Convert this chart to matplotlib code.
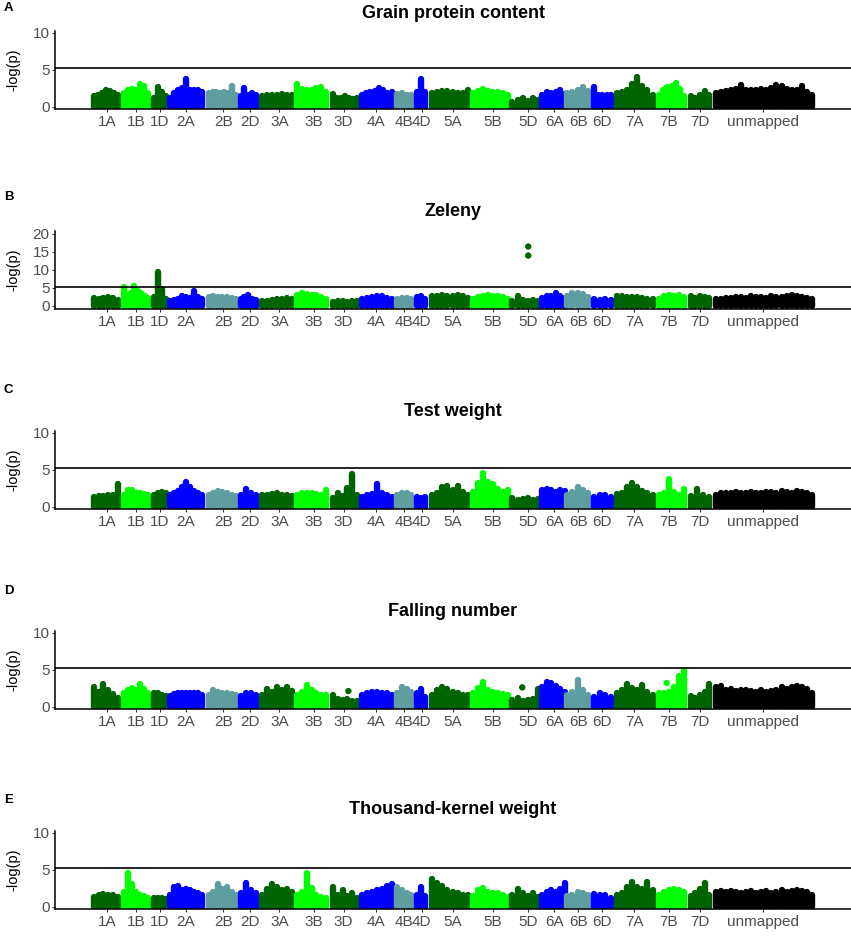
import numpy as np
import matplotlib
matplotlib.use('Agg')
import matplotlib.pyplot as plt

plt.rcParams['font.family'] = ['Liberation Sans', 'DejaVu Sans']

# chromosome layout (cumulative position units)
chroms = ['1A', '1B', '1D', '2A', '2B', '2D', '3A', '3B', '3D', '4A', '4B', '4D',
          '5A', '5B', '5D', '6A', '6B', '6D', '7A', '7B', '7D', 'unmapped']
chrom_start = [0, 30, 60, 76, 115, 147, 169, 204, 240, 269, 304, 324,
               339, 380, 420, 450, 475, 502, 525, 567, 599, 624]
chrom_end = [30, 61, 79, 115, 149, 169, 205, 239, 270, 305, 325, 339,
             382, 422, 452, 479, 502, 525, 567, 599, 624, 727]
chrom_mid = [16, 45.3, 69.3, 95.3, 132.7, 159.3, 189.3, 223.7, 253.7, 286, 314.3, 332,
             363, 403.7, 438.7, 465.3, 489.3, 512.7, 545.3, 580.3, 611, 674.7]

dg, lg, bl, cb = '#006400', '#00ff00', '#0000ff', '#5f9ea0'
chrom_colors = [dg, lg, dg, bl, cb, bl, dg, lg, dg, bl, cb, bl,
                dg, lg, dg, bl, cb, bl, dg, lg, dg, 'black']

threshold = 5.3

# -log(p) profile along each chromosome, one list per chromosome
gpc = [
    [1.4, 1.5, 1.9, 2.2, 2.1, 1.8, 1.6],
    [1.8, 2.2, 2.4, 2.3, 3.0, 2.8, 1.8],
    [1.2, 2.6, 2.0, 1.4],
    [1.2, 1.8, 2.2, 2.5, 3.8, 2.3, 2.2, 2.2, 2.0],
    [1.8, 2.0, 2.0, 1.9, 2.0, 1.9, 2.8, 1.6],
    [1.4, 2.5, 1.6, 1.9, 1.5],
    [1.4, 1.5, 1.6, 1.5, 1.7, 1.5, 1.6],
    [3.0, 2.4, 2.2, 2.3, 2.5, 2.6, 2.0],
    [1.7, 1.2, 1.1, 1.4, 1.2, 1.0, 1.1],
    [1.5, 1.9, 2.0, 2.1, 2.5, 2.3, 1.8, 2.0],
    [1.7, 1.8, 1.6, 1.5],
    [2.0, 3.7, 2.0],
    [1.8, 2.0, 2.1, 2.1, 2.0, 1.9, 1.8, 2.3],
    [1.9, 2.1, 2.4, 2.1, 2.0, 2.0, 1.8, 1.6],
    [0.6, 0.9, 1.2, 0.8, 1.1, 0.9],
    [1.6, 2.0, 1.9, 2.0, 2.2, 1.7],
    [1.9, 2.0, 2.3, 2.6, 2.1],
    [2.6, 1.5, 1.6, 1.6, 1.5],
    [1.8, 2.0, 2.2, 3.0, 4.0, 2.8, 2.3, 1.6],
    [1.6, 2.2, 2.6, 2.8, 3.2, 2.4, 1.4],
    [1.4, 1.2, 1.6, 2.1, 1.6],
    [1.8, 2.0, 2.1, 2.2, 2.4, 2.9, 2.2, 2.3, 2.2, 2.4,
     2.3, 2.5, 2.9, 2.8, 2.4, 2.3, 2.2, 2.8, 2.0, 1.6],
]
gpc_extra = []

zeleny = [
    [2.2, 2.0, 2.2, 2.4, 2.1, 1.5],
    [5.2, 3.0, 3.5, 5.6, 4.0, 3.6, 2.8, 2.2],
    [2.5, 9.3, 4.5, 2.0],
    [1.2, 1.5, 2.0, 2.6, 2.3, 2.2, 4.2, 2.5, 2.0],
    [2.4, 2.6, 2.5, 2.4, 2.5, 2.2, 1.8],
    [2.0, 2.5, 2.9, 2.0, 1.5],
    [1.2, 1.4, 1.6, 1.9, 2.0, 2.2, 1.9],
    [3.0, 3.4, 3.3, 2.9, 3.1, 2.5, 1.8],
    [1.0, 1.3, 1.2, 1.0, 1.4, 1.3],
    [1.8, 2.2, 2.4, 2.8, 2.6, 2.2, 1.9],
    [1.8, 2.2, 2.2, 1.8],
    [2.4, 2.6, 2.0],
    [2.6, 2.8, 2.9, 2.7, 2.8, 2.9, 2.6, 2.2],
    [2.0, 2.3, 2.6, 3.0, 2.8, 2.6, 2.4, 1.8],
    [1.4, 2.8, 1.6, 1.2, 1.6, 1.3],
    [2.2, 2.6, 2.8, 3.4, 2.8, 2.2],
    [2.8, 3.4, 3.5, 3.3, 2.5],
    [1.8, 1.7, 1.8, 1.6],
    [2.6, 2.8, 2.4, 2.5, 2.3, 2.2, 2.0, 1.8],
    [2.0, 2.6, 3.0, 2.8, 3.1, 2.4],
    [2.8, 2.2, 2.6, 2.4, 2.2],
    [1.9, 2.0, 2.2, 2.1, 2.3, 2.4, 2.2, 2.6, 2.4, 2.3,
     2.2, 2.6, 2.5, 2.4, 2.8, 2.9, 2.6, 2.4, 2.2, 1.8],
]
zeleny_extra = [(439, 16.4, dg), (439, 13.9, dg)]

test_weight = [
    [1.3, 1.4, 1.4, 1.5, 1.6, 3.0],
    [1.5, 2.3, 2.3, 1.9, 1.8, 1.7, 1.6],
    [1.6, 1.9, 2.0, 1.8],
    [1.5, 1.8, 2.1, 2.6, 3.3, 2.6, 2.1, 1.8, 1.6],
    [1.6, 1.8, 2.1, 2.0, 1.9, 1.6, 1.4],
    [1.5, 2.4, 1.8, 1.5],
    [1.6, 1.6, 1.7, 1.9, 1.6, 1.5, 1.4],
    [1.6, 1.8, 1.9, 1.8, 1.7, 1.6, 2.3],
    [1.2, 1.9, 1.4, 2.5, 4.4, 1.5],
    [1.3, 1.5, 1.7, 3.0, 1.9, 1.5, 1.3],
    [1.5, 1.9, 1.8, 1.6],
    [1.3, 1.1, 1.3],
    [1.5, 1.8, 2.6, 2.8, 2.2, 2.8, 2.0, 1.6],
    [2.0, 3.2, 4.6, 3.4, 3.0, 2.4, 2.0, 2.2],
    [1.2, 0.9, 1.0, 1.1, 0.9, 1.0],
    [2.2, 2.4, 2.3, 2.0, 2.3, 2.1],
    [1.6, 2.0, 2.6, 2.2, 1.8],
    [1.3, 1.5, 1.5, 1.3],
    [1.7, 1.8, 2.6, 3.2, 2.6, 2.1, 1.9, 1.6],
    [1.6, 1.9, 3.7, 2.0, 1.6, 2.4],
    [1.4, 2.4, 1.6, 1.3],
    [1.6, 1.8, 1.9, 1.9, 2.0, 1.8, 1.9, 2.0, 1.9, 1.8,
     2.0, 2.0, 1.9, 2.1, 2.0, 1.9, 2.1, 2.0, 1.8, 1.5],
]
test_weight_extra = []

falling_number = [
    [2.6, 2.0, 3.0, 2.2, 1.7, 1.2],
    [1.8, 2.2, 2.5, 2.3, 3.0, 2.4, 1.8],
    [1.8, 1.9, 1.6, 1.4],
    [1.4, 1.7, 1.8, 1.9, 1.9, 1.8, 1.9, 1.8, 1.6],
    [1.6, 2.3, 2.0, 1.8, 1.9, 1.7, 1.5],
    [1.4, 1.9, 1.8, 1.5],
    [1.6, 2.4, 2.0, 2.6, 2.2, 2.6, 2.1],
    [1.5, 2.0, 2.9, 2.2, 1.8, 1.6, 1.5],
    [1.5, 1.0, 0.9, 1.0, 0.8, 0.7],
    [1.5, 1.8, 2.0, 2.0, 1.9, 1.8, 1.6],
    [1.8, 2.6, 2.4, 2.0],
    [1.9, 2.4, 1.3],
    [1.6, 2.2, 2.7, 2.4, 2.0, 1.8, 1.6, 1.5],
    [1.8, 2.5, 3.4, 2.3, 2.0, 1.9, 1.7, 1.5],
    [0.9, 1.2, 0.8, 0.9, 1.0, 2.4],
    [2.6, 3.3, 3.2, 2.8, 2.4, 2.0],
    [1.6, 2.0, 3.6, 2.2, 1.6],
    [1.3, 1.8, 1.5, 1.3],
    [1.8, 2.2, 3.0, 2.5, 2.3, 2.9, 2.0, 1.6],
    [1.8, 1.9, 2.0, 2.6, 4.2, 5.0],
    [1.4, 1.2, 1.6, 2.0, 3.0],
    [2.6, 2.8, 2.3, 2.4, 2.1, 2.2, 2.3, 2.1, 2.0, 2.2,
     2.0, 2.1, 2.3, 2.6, 2.4, 2.6, 2.8, 2.6, 2.4, 1.9],
]
falling_number_extra = [(258.5, 2.1, dg), (433, 2.6, dg), (578, 3.2, lg)]

tkw = [
    [1.3, 1.6, 1.7, 1.5, 1.6, 1.3],
    [2.0, 4.5, 3.0, 2.0, 1.6, 1.4, 1.2],
    [1.1, 1.2, 1.1, 1.0],
    [1.6, 2.6, 2.8, 2.2, 2.4, 2.3, 2.0, 1.8, 1.6],
    [1.6, 2.0, 3.0, 2.4, 2.6, 2.0, 1.6],
    [1.8, 3.2, 2.2, 1.8],
    [1.6, 2.4, 3.1, 2.6, 2.3, 2.4, 2.0],
    [1.6, 2.0, 4.5, 2.5, 1.6, 1.3, 1.2],
    [2.6, 1.6, 2.2, 1.4, 1.8, 1.2],
    [1.6, 1.8, 2.0, 2.2, 2.4, 2.8, 3.0],
    [2.6, 2.2, 1.9, 1.5],
    [1.6, 2.6, 1.4],
    [3.7, 3.2, 2.8, 2.2, 2.0, 1.8, 1.6, 1.5],
    [1.4, 2.2, 2.5, 2.0, 1.8, 1.8, 1.6, 1.3],
    [1.6, 2.4, 1.8, 1.4, 1.8, 1.3],
    [1.6, 2.0, 2.2, 2.0, 2.4, 3.2],
    [1.4, 1.6, 2.0, 1.8, 1.6],
    [1.7, 1.6, 1.5, 1.2],
    [1.6, 1.8, 2.6, 3.4, 2.6, 2.4, 3.4, 2.2],
    [1.6, 2.0, 2.2, 2.4, 2.3, 2.0],
    [1.4, 1.8, 2.4, 3.2, 1.6],
    [2.0, 2.1, 2.0, 2.1, 2.0, 1.9, 2.0, 2.1, 1.9, 2.0,
     2.1, 1.9, 2.0, 2.2, 2.0, 2.1, 2.2, 2.1, 2.0, 1.6],
]
tkw_extra = []

letters = ['A', 'B', 'C', 'D', 'E']
letter_y = [8, 197, 390, 591, 800]
titles = ['Grain protein content', 'Zeleny', 'Test weight', 'Falling number',
          'Thousand-kernel weight']
title_y = [13, 212, 411, 611, 810]
panel_data = [gpc, zeleny, test_weight, falling_number, tkw]
panel_extra = [gpc_extra, zeleny_extra, test_weight_extra, falling_number_extra, tkw_extra]
y_ticks = [[0, 5, 10], [0, 5, 10, 15, 20], [0, 5, 10], [0, 5, 10], [0, 5, 10]]
y_lims = [(-0.34, 10.27), (-0.9, 20.7), (-0.34, 10.27), (-0.34, 10.27), (-0.34, 10.27)]

W, H = 851, 936
fig = plt.figure(figsize=(W / 100, H / 100), dpi=100)

dot_lw = 4.6
for k in range(5):
    top = 31 + 200 * k
    ax = fig.add_axes([55 / W, 1 - (top + 78) / H, 796 / W, 78 / H])
    for i, h in enumerate(panel_data[k]):
        r = 3.2
        xs = np.linspace(chrom_start[i] + r, chrom_end[i] - r, len(h))
        ax.vlines(xs, 0, h, colors=chrom_colors[i], lw=dot_lw, capstyle='round', zorder=2)
    for x, y, c in panel_extra[k]:
        ax.scatter([x], [y], s=dot_lw ** 2, color=c, edgecolors='none', zorder=3)
    ax.axhline(threshold, color='black', lw=1.2, zorder=4)

    ax.set_xlim(-36, 763)
    ax.set_ylim(*y_lims[k])
    ax.set_xticks(chrom_mid)
    ax.set_xticklabels(chroms)
    ax.set_yticks(y_ticks[k])
    for s in ['top', 'right']:
        ax.spines[s].set_visible(False)
    for s in ['left', 'bottom']:
        ax.spines[s].set_linewidth(1.1)
        ax.spines[s].set_color('black')
    ax.tick_params(length=2.5, width=0.8, color='#333333', labelcolor='#4d4d4d',
                   labelsize=11, pad=1.5)

    fig.text(13 / W, 1 - (top + 39) / H, '-log(p)', rotation=90, ha='center',
             va='center', fontsize=10.5)
    fig.text(453 / W, 1 - title_y[k] / H, titles[k], ha='center', va='center',
             fontsize=13, fontweight='bold')
    fig.text(4 / W, 1 - letter_y[k] / H, letters[k], ha='left', va='center',
             fontsize=9.5, fontweight='bold')

fig.savefig('out.png', dpi=100)
plt.close()
